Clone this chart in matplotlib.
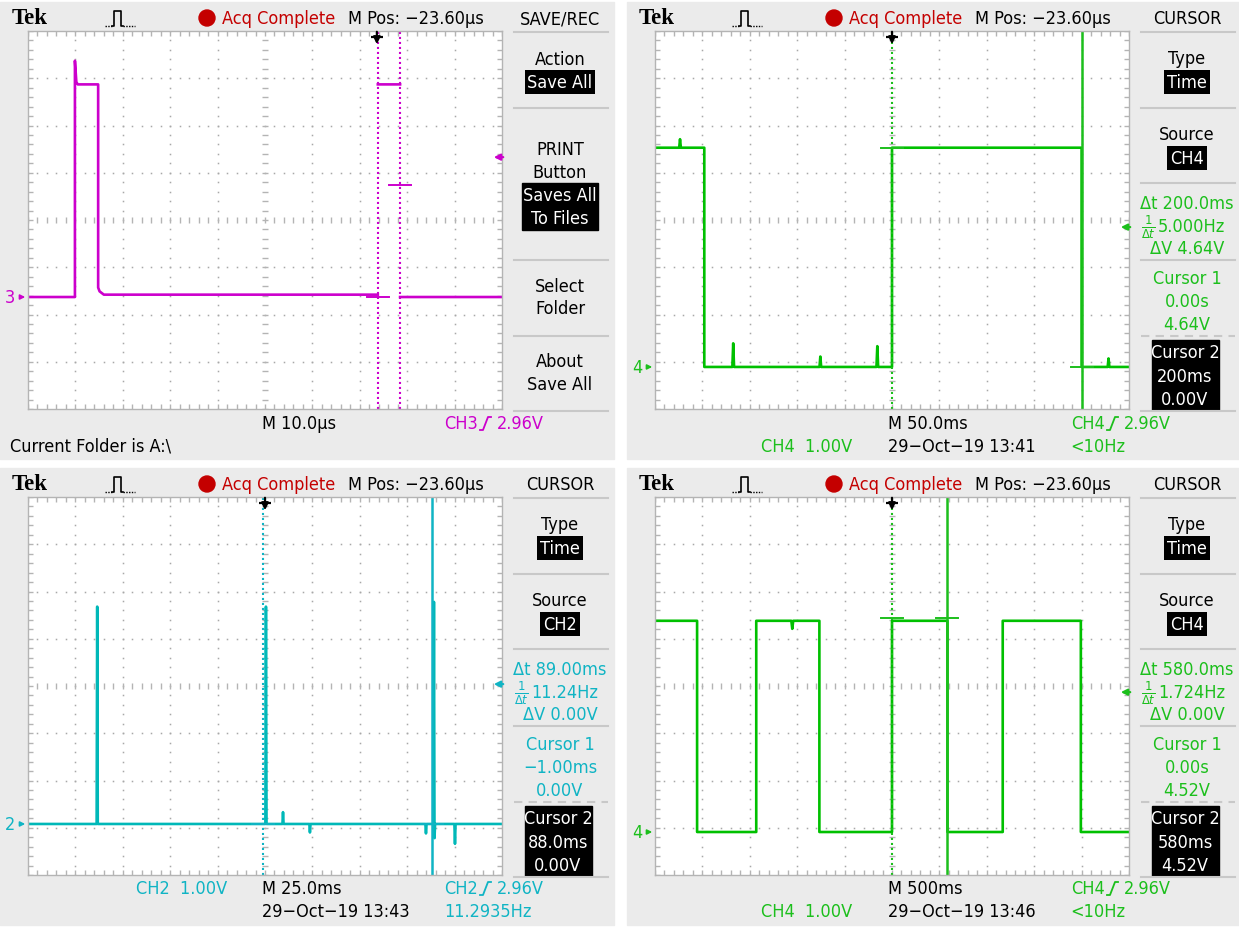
import os
import matplotlib
matplotlib.use('Agg')
import matplotlib.pyplot as plt
from matplotlib.patches import Rectangle, Circle
from matplotlib.collections import LineCollection
from matplotlib.transforms import blended_transform_factory
from matplotlib import font_manager as fm
import numpy as np

W, H = 1239, 928

# ---------------- data ----------------
nan = float('nan')
# panel a : CH3, 10.0 us/div, time relative to screen centre (us), volts
a_time = [-50, -40.1, -40.1, -39.8, -39.5, -35.2, -35.2, -34.9, -34.0, 23.8, nan, 23.8, 28.5, nan, 28.5, 50]
a_volt = [0.0, 0.0, 5.0, 4.55, 4.5, 4.5, 0.2, 0.12, 0.05, 0.05, nan, 4.5, 4.5, nan, 0.0, 0.0]
a_cursor_t = [23.8, 28.5]
a_cursor_v = [0.0, 2.37]
a_trig_t = 23.6

# panel b : CH4, 50.0 ms/div
b_time = [-250, -224.5, -223.6, -222.7, -198, -198, -168.4, -167.5, -166.6, -76.5, -75.6, -74.7,
          -16.4, -15.5, -14.6, 0, 0, 200, 200, 227.5, 228.4, 229.3, 250]
b_volt = [4.64, 4.64, 4.82, 4.64, 4.64, 0.0, 0.0, 0.5, 0.0, 0.0, 0.22, 0.0,
          0.0, 0.44, 0.0, 0.0, 4.64, 4.64, 0.0, 0.0, 0.18, 0.0, 0.0]
b_cursor_t = [0.0, 200.0]
b_cursor_v = [4.64, 0.0]
b_trig_t = 0.0

# panel c : CH2, 25.0 ms/div
c_time = [-125, -88.8, -88.5, -88.2, 0.2, 0.5, 0.8, 9.2, 9.5, 9.8, 23.4, 23.7, 24.0,
          84.6, 84.9, 85.2, 88.8, 89.1, 89.4, 89.7, 99.9, 100.2, 100.5, 125]
c_volt = [0.0, 0.0, 4.6, 0.0, 0.0, 4.6, 0.0, 0.0, 0.25, 0.0, 0.0, -0.18, 0.0,
          0.0, -0.2, 0.0, 0.0, 4.7, -0.3, 0.0, 0.0, -0.42, 0.0, 0.0]
c_cursor_t = [-1.0, 88.0]
c_cursor_v = [0.0, 0.0]
c_trig_t = 0.0

# panel d : CH4, 500 ms/div
d_time = [-2500, -2056, -2056, -1432, -1432, -1062, -1052, -1042, -766, -766, 0, 0,
          585, 585, 1168, 1168, 1992, 1992, 2500]
d_volt = [4.47, 4.47, 0.0, 0.0, 4.47, 4.47, 4.3, 4.47, 4.47, 0.0, 0.0, 4.47,
          4.47, 0.0, 0.0, 4.47, 4.47, 0.0, 0.0]
d_cursor_t = [0.0, 580.0]
d_cursor_v = [4.52, 4.52]
d_trig_t = 0.0

trig_level = 2.96

# ---------------- fonts ----------------
wanted = ['liberationsansnarrow-regular.ttf', 'dejavusanscondensed.ttf', 'robotocondensed-regular.ttf',
          'notosans-condensed.ttf', 'notosanscondensed-regular.ttf', 'opensans-condensedregular.ttf',
          'opensans_condensed-regular.ttf']
narrow_path = None
by_base = {}
for f in fm.fontManager.ttflist:
    by_base.setdefault(os.path.basename(f.fname).lower(), f.fname)
for w in wanted:
    if w in by_base:
        narrow_path = by_base[w]
        break

plt.rcParams['font.family'] = ['Liberation Sans', 'DejaVu Sans']
if narrow_path:
    BASE = 14.5 if 'liberation' in narrow_path.lower() else 13.0
else:
    BASE = 12.6


def FP(size):
    if narrow_path:
        return fm.FontProperties(fname=narrow_path, size=size)
    return fm.FontProperties(family=['Liberation Sans', 'DejaVu Sans'], size=size)


# ---------------- style ----------------
MAG = '#cc00cc'
GRN = '#00c000'
GRN_T = '#1cbf1c'
CYN = '#00b8b8'
CYN_T = '#10b4c4'
RED = '#c40000'
PANEL_BG = '#ebebeb'
GRIDC = '#b4b4b4'
DOTC = '#a8a8a8'
SEPC = '#c8c8c8'

GX0, GX1, GY0, GY1 = 28, 502, 29, 407
GW, GH = GX1 - GX0, GY1 - GY0

fig = plt.figure(figsize=(W / 100, H / 100), dpi=100)
fig.patch.set_facecolor('white')
bg = fig.add_axes([0, 0, 1, 1])
bg.set_xlim(0, W)
bg.set_ylim(H, 0)
bg.axis('off')

PANELS = [(0, 3), (627, 3), (0, 469), (627, 469)]
PW, PH = 614, 457


def txt(ox, oy, x, y, s, size=None, color='black', ha='center', va='center', **kw):
    bg.text(ox + x, oy + y, s, fontproperties=FP(size if size else BASE), color=color, ha=ha, va=va, **kw)


def make_grid(ox, oy, xlim, gnd_div):
    ax = fig.add_axes([(ox + GX0) / W, 1 - (oy + GY1) / H, GW / W, GH / H])
    ax.set_facecolor('white')
    ax.set_xlim(*xlim)
    ax.set_ylim(-4 + gnd_div, 4 + gnd_div)
    ax.set_xticks([])
    ax.set_yticks([])
    for s in ax.spines.values():
        s.set_color(GRIDC)
        s.set_linewidth(1.0)
    T = ax.transAxes
    ys = np.arange(0, 41) / 40.0
    xs = np.arange(0, 51) / 50.0
    for i in range(1, 10):
        if i == 5:
            continue
        ax.plot([i / 10] * len(ys), ys, ls='none', marker='s', ms=1.1, color=DOTC, mec='none', transform=T)
    for k in range(1, 8):
        if k == 4:
            continue
        ax.plot(xs, [k / 8] * len(xs), ls='none', marker='s', ms=1.1, color=DOTC, mec='none', transform=T)
    segs = []
    tx, ty = 3.0 / GW, 3.0 / GH
    for y in ys:
        segs.append([(0.5 - tx, y), (0.5 + tx, y)])
        segs.append([(0, y), (5.0 / GW, y)])
        segs.append([(1 - 5.0 / GW, y), (1, y)])
    for x in xs:
        segs.append([(x, 0.5 - ty), (x, 0.5 + ty)])
        segs.append([(x, 0), (x, 5.0 / GH)])
        segs.append([(x, 1 - 5.0 / GH), (x, 1)])
    ax.add_collection(LineCollection(segs, colors=GRIDC, linewidths=1.0, transform=T))
    return ax


def decorate(ax, ch, color, trig_t, cursors_t, cursors_v, solid_second, xspan):
    B = blended_transform_factory(ax.transAxes, ax.transData)
    Bx = blended_transform_factory(ax.transData, ax.transAxes)
    ax.text(-18.0 / GW, 0.0, ch, transform=B, color=color, fontproperties=FP(BASE),
            ha='center', va='center', clip_on=False)
    ax.annotate('', xy=(0.0, 0.0), xytext=(-11.0 / GW, 0.0), xycoords=B, textcoords=B,
                arrowprops=dict(arrowstyle='-|>', color=color, lw=1.2, mutation_scale=7), annotation_clip=False)
    ax.annotate('', xy=(1 - 11.0 / GW, trig_level), xytext=(1 + 4.0 / GW, trig_level), xycoords=B, textcoords=B,
                arrowprops=dict(arrowstyle='-|>', color=color, lw=1.6, mutation_scale=9), annotation_clip=False)
    ax.annotate('', xy=(trig_t, 1 - 16.0 / GH), xytext=(trig_t, 1 + 2.0 / GH), xycoords=Bx, textcoords=Bx,
                arrowprops=dict(arrowstyle='-|>', color='black', lw=1.6, mutation_scale=10), annotation_clip=False)
    ax.plot([trig_t], [1 - 6.0 / GH], transform=Bx, marker='_', ms=8, mew=1.6, color='black', clip_on=False)
    for i, (ct, cv) in enumerate(zip(cursors_t, cursors_v)):
        if solid_second and i == 1:
            ax.axvline(ct, color=color, lw=1.8)
        else:
            ax.axvline(ct, color=color, lw=1.5, ls=(0, (1, 1.4)))
        dx = xspan * 11.0 / GW
        ax.plot([ct - dx, ct + dx], [cv, cv], color=color, lw=1.4)


def header(ox, oy, title):
    bg.text(ox + 12, oy + 16, 'Tek', fontsize=16.5, fontweight='bold', family='Liberation Serif',
            ha='left', va='center')
    ix, iy = ox + 105, oy + 16
    bg.plot([ix, ix + 7], [iy + 8, iy + 8], color='black', lw=1, ls=(0, (1, 1)))
    bg.plot([ix + 7, ix + 9, ix + 9, ix + 16, ix + 16, ix + 18], [iy + 8, iy + 8, iy - 7, iy - 7, iy + 8, iy + 8],
            color='black', lw=1.2)
    bg.plot([ix + 18, ix + 30], [iy + 8, iy + 8], color='black', lw=1, ls=(0, (1, 1)))
    bg.add_patch(Circle((ox + 207, oy + 16), 8, color=RED))
    txt(ox, oy, 222, 16, 'Acq Complete', color=RED, ha='left')
    txt(ox, oy, 348, 16, 'M Pos: \u221223.60\u00b5s', ha='left')
    txt(ox, oy, 560, 16, title)


def inv(ox, oy, y, s):
    txt(ox, oy, 560, y, s, color='white',
        bbox=dict(boxstyle='square,pad=0.15', fc='black', ec='none'))


def trig_label(ox, oy, y, ch, color):
    txt(ox, oy, 444, y, ch, color=color, ha='left')
    gx, gy = ox + 480, oy + y
    bg.plot([gx, gx + 3, gx + 8, gx + 11], [gy + 7, gy + 7, gy - 6, gy - 6], color=color, lw=1.3)
    txt(ox, oy, 497, y, '2.96V', color=color, ha='left')


def separators(ox, oy, ys, dashed_idx=None):
    for i, y in enumerate(ys):
        ls = (0, (4, 3)) if i == dashed_idx else '-'
        bg.plot([ox + 514, ox + 608], [oy + y, oy + y], color=SEPC, lw=1.5, ls=ls)


def cursor_menu(ox, oy, src, color, dt, inv_dt, dv, c1t, c1v, c2t, c2v):
    separators(ox, oy, [30, 106, 181, 258, 334, 409], dashed_idx=4)
    txt(ox, oy, 560, 56, 'Type')
    inv(ox, oy, 80, 'Time')
    txt(ox, oy, 560, 132, 'Source')
    inv(ox, oy, 156, src)
    txt(ox, oy, 560, 201, '\u0394t ' + dt, color=color)
    bg.text(ox + 521, oy + 224, r'$\frac{1}{\Delta t}$', color=color, fontsize=12, ha='center', va='center')
    txt(ox, oy, 531, 224, inv_dt, color=color, ha='left')
    txt(ox, oy, 560, 246, '\u0394V ' + dv, color=color)
    txt(ox, oy, 560, 276, 'Cursor 1', color=color)
    txt(ox, oy, 560, 299, c1t, color=color)
    txt(ox, oy, 560, 322, c1v, color=color)
    bg.add_patch(Rectangle((ox + 525, oy + 338), 67, 70, color='black'))
    txt(ox, oy, 558, 350, 'Cursor 2', color='white')
    txt(ox, oy, 558, 374, c2t, color='white')
    txt(ox, oy, 558, 397, c2v, color='white')


for (ox, oy) in PANELS:
    bg.add_patch(Rectangle((ox, oy), PW, PH, color=PANEL_BG, zorder=0))

LW = 1.9

# ---------------- panel a ----------------
ox, oy = PANELS[0]
ax = make_grid(ox, oy, (-50, 50), 1.63)
ax.plot(a_time, a_volt, color=MAG, lw=LW)
decorate(ax, '3', MAG, a_trig_t, a_cursor_t, a_cursor_v, False, 100)
header(ox, oy, 'SAVE/REC')
separators(ox, oy, [30, 106, 258, 334, 409])
txt(ox, oy, 560, 57, 'Action')
inv(ox, oy, 80, 'Save All')
txt(ox, oy, 560, 147, 'PRINT')
txt(ox, oy, 560, 170, 'Button')
bg.add_patch(Rectangle((ox + 522, oy + 181), 76, 47, color='black'))
txt(ox, oy, 560, 193, 'Saves All', color='white')
txt(ox, oy, 560, 216, 'To Files', color='white')
txt(ox, oy, 560, 284, 'Select')
txt(ox, oy, 560, 306, 'Folder')
txt(ox, oy, 560, 359, 'About')
txt(ox, oy, 560, 382, 'Save All')
txt(ox, oy, 262, 421, 'M 10.0\u00b5s', ha='left')
trig_label(ox, oy, 421, 'CH3', MAG)
txt(ox, oy, 10, 444, 'Current Folder is A:\\', ha='left')
bg.text(ox + 190, oy + 77, 'a', fontsize=32, family='Liberation Sans', ha='center', va='baseline')

# ---------------- panel b ----------------
ox, oy = PANELS[1]
ax = make_grid(ox, oy, (-250, 250), 3.11)
ax.plot(b_time, b_volt, color=GRN, lw=LW)
decorate(ax, '4', GRN_T, b_trig_t, b_cursor_t, b_cursor_v, True, 500)
header(ox, oy, 'CURSOR')
cursor_menu(ox, oy, 'CH4', GRN_T, '200.0ms', '5.000Hz', '4.64V', '0.00s', '4.64V', '200ms', '0.00V')
txt(ox, oy, 261, 421, 'M 50.0ms', ha='left')
trig_label(ox, oy, 421, 'CH4', GRN_T)
txt(ox, oy, 134, 444, 'CH4  1.00V', color=GRN_T, ha='left')
txt(ox, oy, 261, 444, '29\u2212Oct\u221219 13:41', ha='left')
txt(ox, oy, 443, 444, '<10Hz', color=GRN_T, ha='left')
bg.text(ox + 150, oy + 90, 'b', fontsize=32, family='Liberation Sans', ha='center', va='baseline')

# ---------------- panel c ----------------
ox, oy = PANELS[2]
ax = make_grid(ox, oy, (-125, 125), 2.92)
ax.plot(c_time, c_volt, color=CYN, lw=LW)
decorate(ax, '2', CYN_T, c_trig_t, c_cursor_t, c_cursor_v, True, 250)
header(ox, oy, 'CURSOR')
cursor_menu(ox, oy, 'CH2', CYN_T, '89.00ms', '11.24Hz', '0.00V', '\u22121.00ms', '0.00V', '88.0ms', '0.00V')
txt(ox, oy, 136, 420, 'CH2  1.00V', color=CYN_T, ha='left')
txt(ox, oy, 262, 420, 'M 25.0ms', ha='left')
trig_label(ox, oy, 420, 'CH2', CYN_T)
txt(ox, oy, 262, 443, '29\u2212Oct\u221219 13:43', ha='left')
txt(ox, oy, 444, 443, '11.2935Hz', color=CYN_T, ha='left')
bg.text(ox + 187, oy + 83, 'c', fontsize=32, family='Liberation Sans', ha='center', va='baseline')

# ---------------- panel d ----------------
ox, oy = PANELS[3]
ax = make_grid(ox, oy, (-2500, 2500), 3.09)
ax.plot(d_time, d_volt, color=GRN, lw=LW)
decorate(ax, '4', GRN_T, d_trig_t, d_cursor_t, d_cursor_v, True, 5000)
header(ox, oy, 'CURSOR')
cursor_menu(ox, oy, 'CH4', GRN_T, '580.0ms', '1.724Hz', '0.00V', '0.00s', '4.52V', '580ms', '4.52V')
txt(ox, oy, 261, 420, 'M 500ms', ha='left')
trig_label(ox, oy, 420, 'CH4', GRN_T)
txt(ox, oy, 134, 443, 'CH4  1.00V', color=GRN_T, ha='left')
txt(ox, oy, 261, 443, '29\u2212Oct\u221219 13:46', ha='left')
txt(ox, oy, 443, 443, '<10Hz', color=GRN_T, ha='left')
bg.text(ox + 150, oy + 84, 'd', fontsize=32, family='Liberation Sans', ha='center', va='baseline')

fig.savefig('out.png', dpi=100)
